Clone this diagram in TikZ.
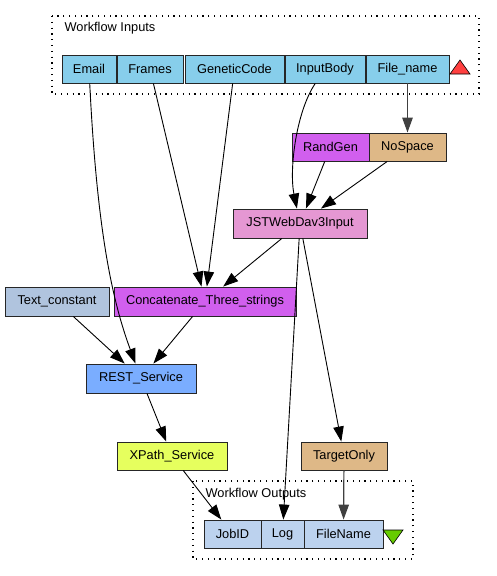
\documentclass[tikz,border=0pt]{standalone}
\usepackage{fontspec}
\setmainfont{Liberation Sans}
\usepackage{tikz}
\usetikzlibrary{arrows.meta}
\usepackage{xcolor}
\definecolor{inport}{RGB}{135,206,235}
\definecolor{outport}{RGB}{188,210,238}
\definecolor{orchidp}{RGB}{209,95,238}
\definecolor{burly}{RGB}{222,184,135}
\definecolor{plumdav}{RGB}{229,151,211}
\definecolor{steel}{RGB}{176,196,222}
\definecolor{restblue}{RGB}{122,173,255}
\definecolor{xpathy}{RGB}{230,255,94}
\definecolor{redtri}{RGB}{255,64,64}
\definecolor{greentri}{RGB}{102,204,0}

\begin{document}
\begin{tikzpicture}[x=1pt,y=-1pt,
  proc/.style={draw=black!85,line width=0.9pt,inner sep=0pt,minimum height=28pt,font=\fontsize{12.8}{14}\selectfont},
  flow/.style={line width=0.9pt,-{Triangle[length=15pt,width=10.5pt]}},
  cluster/.style={line width=1.1pt,dash pattern=on 1.2pt off 4.6pt}]
 \useasboundingbox (0,0) rectangle (496,576);
 %% workflow inputs
 \draw[cluster] (52,16) rectangle (479,94);
 \node[anchor=west,font=\fontsize{12.8}{14}\selectfont] (inlabel) at (61,28) {Workflow Inputs};
 \node[proc,fill=inport,minimum width=54pt] (email) at (89,69) {Email};
 \node[proc,fill=inport,minimum width=66pt] (frames) at (150,69) {Frames};
 \node[proc,fill=inport,minimum width=99pt] (genetic) at (234.5,69) {GeneticCode};
 \node[proc,fill=inport,minimum width=80pt] (inbody) at (325,69) {InputBody};
 \node[proc,fill=inport,minimum width=83pt] (filename) at (407.5,69) {File\_name};
 \draw[fill=redtri,line width=0.6pt] (450,74)--++(20,0)--++(-10,-14)--cycle;
 %% processors
 \node[proc,fill=orchidp,minimum width=77pt] (randgen) at (330.5,147) {RandGen};
 \node[proc,fill=burly,minimum width=77pt] (nospace) at (407.5,147) {NoSpace};
 \node[proc,fill=plumdav,minimum width=134pt,minimum height=29pt] (webdav) at (300,223.5) {JSTWebDav3Input};
 \node[proc,fill=steel,minimum width=104pt,minimum height=29pt] (textconst) at (57,301.5) {Text\_constant};
 \node[proc,fill=orchidp,minimum width=182pt,minimum height=29pt] (concat) at (205,301.5) {Concatenate\_Three\_strings};
 \node[proc,fill=restblue,minimum width=110pt,minimum height=29pt] (rest) at (141,378.5) {REST\_Service};
 \node[proc,fill=xpathy,minimum width=110pt] (xpath) at (172,456) {XPath\_Service};
 \node[proc,fill=burly,minimum width=86pt] (target) at (344,456) {TargetOnly};
 %% workflow outputs
 \draw[cluster] (193,481) rectangle (413,559);
 \node[anchor=west,font=\fontsize{12.8}{14}\selectfont] (outlabel) at (202,494) {Workflow Outputs};
 \node[proc,fill=outport,minimum width=57pt] (jobid) at (232.5,534) {JobID};
 \node[proc,fill=outport,minimum width=43pt] (log) at (282.5,534) {Log};
 \node[proc,fill=outport,minimum width=79pt] (fname) at (343.5,534) {FileName};
 \draw[fill=greentri,line width=0.6pt] (383,530)--++(20,0)--++(-10,14)--cycle;
 %%%%%%%%%%%%%%%%%%%%%%%%%%%%%%%%%%%
 \draw[flow] (email) .. controls (97,230) and (112,300) .. (rest);
 \draw[flow] (frames)--(concat);
 \draw[flow] (genetic)--(concat);
 \draw[flow] (inbody) .. controls (296,112) and (289,170) .. (webdav);
 \draw[flow,line width=1.2pt,draw=black!75] (filename)--(nospace);
 \draw[flow] (randgen)--(webdav);
 \draw[flow] (nospace)--(webdav);
 \draw[flow] (webdav)--(concat);
 \draw[flow] (webdav)--(log);
 \draw[flow] (webdav)--(target);
 \draw[flow] (textconst)--(rest);
 \draw[flow] (concat)--(rest);
 \draw[flow] (rest)--(xpath);
 \draw[flow] (xpath)--(jobid);
 \draw[flow,line width=1.2pt,draw=black!75] (target)--(fname);
\end{tikzpicture}
\end{document}
